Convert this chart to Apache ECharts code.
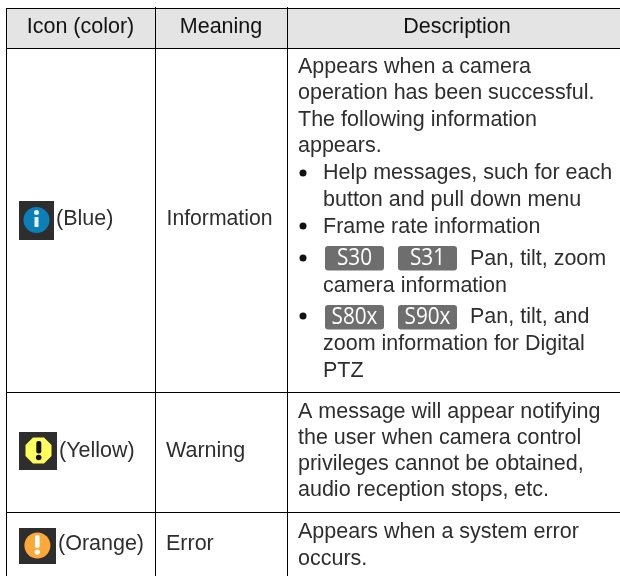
<!DOCTYPE html>
<html><head><meta charset="utf-8">
<style>html,body{margin:0;padding:0;background:#fff}#c{width:620px;height:576px}</style>
<script src="https://cdn.jsdelivr.net/npm/echarts@6/dist/echarts.min.js"></script>
</head><body><div id="c"></div>
<script>
var headers = ['Icon (color)', 'Meaning', 'Description'];
var iconLabels = ['(Blue)', '(Yellow)', '(Orange)'];
var meanings = ['Information', 'Warning', 'Error'];
var infoLines = ['Appears when a camera', 'operation has been successful.', 'The following information', 'appears.'];
var infoBullets = ['Help messages, such for each', 'button and pull down menu', 'Frame rate information'];
var badges1 = ['S30', 'S31'];
var badges1Text = ['Pan, tilt, zoom', 'camera information'];
var badges2 = ['S80x', 'S90x'];
var badges2Text = ['Pan, tilt, and', 'zoom information for Digital', 'PTZ'];
var warningLines = ['A message will appear notifying', 'the user when camera control', 'privileges cannot be obtained,', 'audio reception stops, etc.'];
var errorLines = ['Appears when a system error', 'occurs.'];

var FONT = '"Liberation Sans", Arial, sans-serif';
var INK = '#2e2e2e';
var els = [];
function rect(x, y, w, h, fill, r) {
  els.push({type:'rect', shape:{x:x,y:y,width:w,height:h,r:r||0}, style:{fill:fill}, silent:true});
}
function hline(y, x1, x2) { rect(x1, y, x2-x1, 1, '#000'); }
function vline(x, y1, y2) { rect(x, y1, 1, y2-y1, '#000'); }
function text(s, x, y, opt) {
  opt = opt || {};
  els.push({type:'text', x:x, y:y, scaleX:opt.scaleX||1, silent:true, style:{
    text:s, fill:opt.fill||INK, font:(opt.size||21.5)+'px '+(opt.family||FONT),
    textAlign:opt.align||'left', textVerticalAlign:'middle', verticalAlign:'middle'}});
}
function circle(cx, cy, r, fill) {
  els.push({type:'circle', shape:{cx:cx,cy:cy,r:r}, style:{fill:fill}, silent:true});
}
function bullet(y) { circle(303, y, 3.5, '#111'); }
function badge(s, x, y) {
  rect(x, y, 59, 24.5, '#6e6e6e', 3);
  text(s, x+29.5, y+12, {fill:'#fff', align:'center', size:23, scaleX:0.9, family:'"Open Sans", "Noto Sans", sans-serif'});
}

rect(7, 9, 613, 39, '#e4e4e4');
hline(8, 6, 620); hline(48, 6, 620); hline(392, 6, 620); hline(512, 6, 620);
vline(6, 8, 576); vline(155, 7, 576); vline(287, 7, 576);

text(headers[0], 80.5, 27, {align:'center', fill:'#111'});
text(headers[1], 221, 27, {align:'center', fill:'#111'});
text(headers[2], 457, 27, {align:'center', fill:'#111'});

// icons
rect(19, 201, 35, 39, '#2e2e2e');
circle(36.5, 220, 13, '#0a7fb8');
circle(36.5, 212.5, 2.5, '#e8f4fa');
rect(34.5, 217, 4, 10, '#e8f4fa');
rect(19, 432, 38, 38, '#2e2e2e');
els.push({type:'polygon', silent:true, shape:{points:[[33,437.5],[44,437.5],[51.5,445],[51.5,456],[44,463.5],[33,463.5],[25.5,456],[25.5,445]]}, style:{fill:'#fdfd5c'}});
rect(36.3, 441, 5, 12.5, '#111', 2);
circle(38.7, 457.5, 2.8, '#111');
rect(19, 528, 37, 36, '#2e2e2e');
circle(37.4, 545.5, 13, '#fca93a');
rect(35, 535, 4.6, 13, '#fff', 2);
circle(37.3, 552, 2.6, '#fff');

text(iconLabels[0], 56, 219.5);
text(iconLabels[1], 59, 451.5);
text(iconLabels[2], 58, 544.5);
text(meanings[0], 219.5, 219.5, {align:'center', size:21.2});
text(meanings[1], 166, 451.5);
text(meanings[2], 166, 544.5);

var DX = 298, BX = 323;
[67, 93, 120, 146].forEach(function(y,i){ text(infoLines[i], DX, y); });
[173, 200, 227].forEach(function(y,i){ text(infoBullets[i], BX, y); });
bullet(173); bullet(226); bullet(258); bullet(316);
badge(badges1[0], 325, 246); badge(badges1[1], 398, 246);
text(badges1Text[0], 470, 259); text(badges1Text[1], BX, 286);
badge(badges2[0], 325, 305); badge(badges2[1], 398, 305);
text(badges2Text[0], 470, 317); text(badges2Text[1], BX, 344); text(badges2Text[2], BX, 371);
[412, 438, 464, 490].forEach(function(y,i){ text(warningLines[i], DX, y); });
[532, 559].forEach(function(y,i){ text(errorLines[i], DX, y); });

var chart = echarts.init(document.getElementById('c'), null, {renderer:'canvas'});
chart.setOption({animation:false, backgroundColor:'#fff', graphic:{elements:els}});
</script></body></html>
